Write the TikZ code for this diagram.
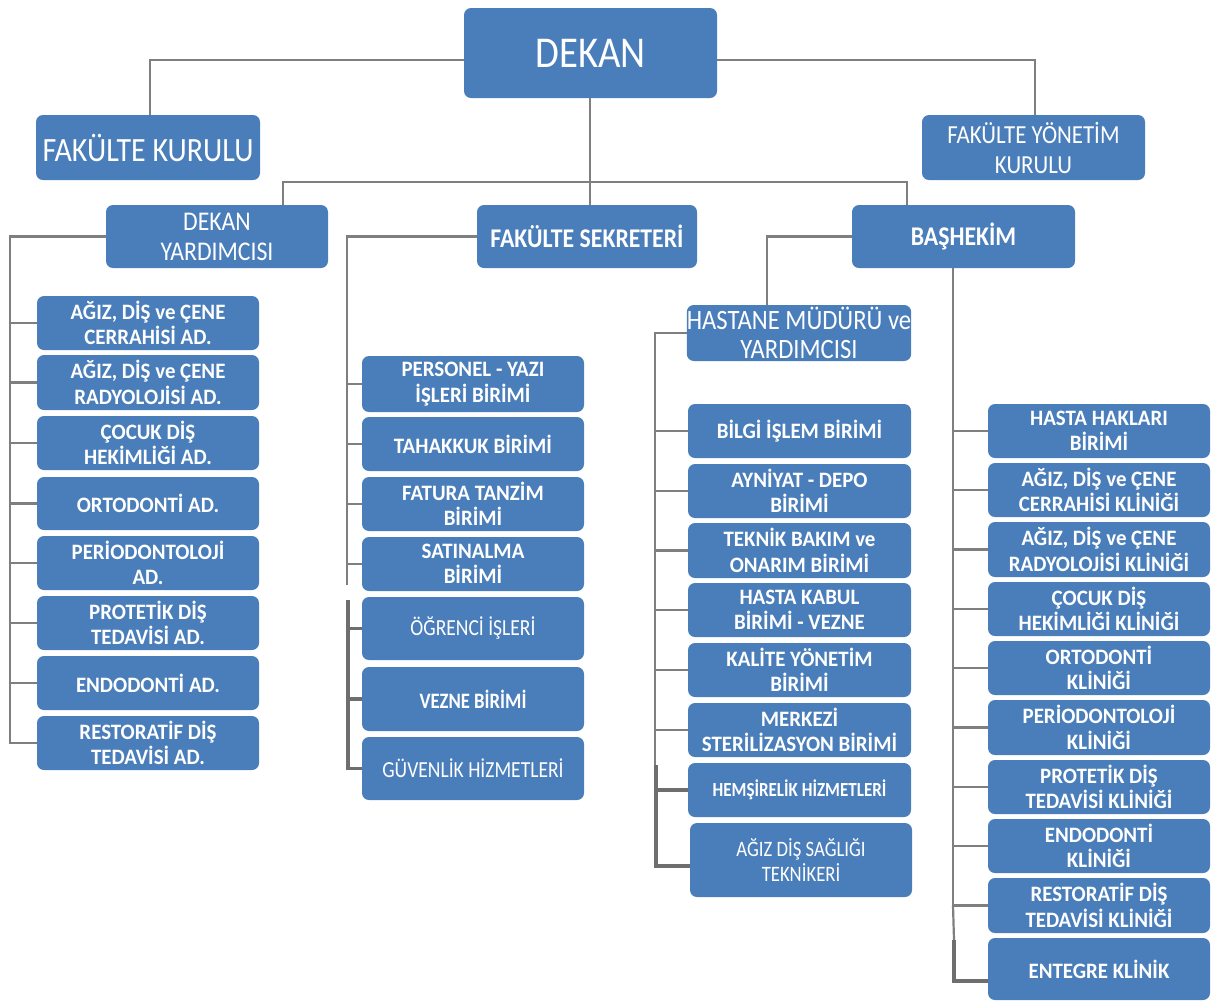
\documentclass[tikz,border=0pt]{standalone}
\usepackage{fontspec}
\setmainfont{Carlito}[FakeStretch=0.95]
\newfontfamily\stdf{Carlito}[FakeStretch=0.88]
\newfontfamily\narrowf{Carlito}[FakeStretch=0.85]
\definecolor{boxblue}{HTML}{4A7EBB}
\definecolor{linegray}{HTML}{7F7F7F}
\definecolor{darkline}{HTML}{6E6E6E}
\newcommand\bx[7][]{%
  \node[box,#1,minimum width={#5-#3},minimum height={#6-#4}] (#2) at ({(#3+#5)/2},{(#4+#6)/2}) {#7};}
\begin{document}
\begin{tikzpicture}[x=1pt,y=-1pt,
  box/.style={rounded corners=7pt, fill=boxblue, text=white, inner sep=0pt, align=center,
    font=\bfseries\fontsize{22}{25.5}\selectfont},
  conn/.style={draw=linegray, line width=2.2pt},
  thk/.style={draw=darkline, line width=3.6pt}]
\useasboundingbox (0,0) rectangle (1221,1005);

% top level
\bx[font=\stdf\fontsize{44}{50}\selectfont]{dekan}{464}{8}{717}{98}{DEKAN}
\bx[font=\stdf\fontsize{34}{38}\selectfont]{fk}{36}{115}{260}{180}{FAKÜLTE KURULU}
\bx[font=\stdf\fontsize{26}{30}\selectfont]{fyk}{922}{115}{1145}{180}{FAKÜLTE YÖNETİM\\KURULU}
\bx[font=\stdf\fontsize{27}{30}\selectfont]{dy}{106}{205}{328}{268}{DEKAN\\YARDIMCISI}
\bx[font=\stdf\bfseries\fontsize{27}{30}\selectfont]{fs}{477}{205}{697}{268}{FAKÜLTE SEKRETERİ}
\bx[font=\stdf\bfseries\fontsize{27}{30}\selectfont]{bh}{852}{205}{1075}{268}{BAŞHEKİM}

% DEKAN YARDIMCISI column
\bx{a1}{37}{296}{259}{350}{AĞIZ, DİŞ ve ÇENE\\CERRAHİSİ AD.}
\bx{a2}{37}{355}{259}{410}{AĞIZ, DİŞ ve ÇENE\\RADYOLOJİSİ AD.}
\bx{a3}{37}{416}{259}{470}{ÇOCUK DİŞ\\HEKİMLİĞİ AD.}
\bx{a4}{37}{477}{259}{530}{ORTODONTİ AD.}
\bx{a5}{37}{536}{259}{590}{PERİODONTOLOJİ\\AD.}
\bx{a6}{37}{596}{259}{650}{PROTETİK DİŞ\\TEDAVİSİ AD.}
\bx{a7}{37}{656}{259}{710}{ENDODONTİ AD.}
\bx{a8}{37}{716}{259}{770}{RESTORATİF DİŞ\\TEDAVİSİ AD.}

% FAKULTE SEKRETERI column
\bx{b1}{362}{356}{584}{412}{PERSONEL - YAZI\\İŞLERİ BİRİMİ}
\bx{b2}{362}{417}{584}{471}{TAHAKKUK BİRİMİ}
\bx{b3}{362}{477}{584}{531}{FATURA TANZİM\\BİRİMİ}
\bx{b4}{362}{537}{584}{591}{SATINALMA\\BİRİMİ}
\bx[font=\narrowf\fontsize{23}{26}\selectfont]{b5}{362}{597}{584}{660}{ÖĞRENCİ İŞLERİ}
\bx[font=\narrowf\bfseries\fontsize{22}{26}\selectfont]{b6}{362}{667}{584}{731}{VEZNE BİRİMİ}
\bx[font=\narrowf\fontsize{23}{26}\selectfont]{b7}{362}{737}{584}{800}{GÜVENLİK HİZMETLERİ}

% HASTANE MUDURU column
\bx[font=\stdf\fontsize{28}{29}\selectfont]{hm}{687}{305}{911}{361}{HASTANE MÜDÜRÜ ve\\YARDIMCISI}
\bx{c1}{688}{404}{911}{458}{BİLGİ İŞLEM BİRİMİ}
\bx{c2}{688}{464}{911}{518}{AYNİYAT - DEPO\\BİRİMİ}
\bx{c3}{688}{523}{911}{578}{TEKNİK BAKIM ve\\ONARIM BİRİMİ}
\bx{c4}{688}{583}{911}{637}{HASTA KABUL\\BİRİMİ - VEZNE}
\bx{c5}{688}{643}{911}{697}{KALİTE YÖNETİM\\BİRİMİ}
\bx{c6}{688}{703}{911}{757}{MERKEZİ\\STERİLİZASYON BİRİMİ}
\bx[font=\narrowf\bfseries\fontsize{20}{24}\selectfont]{c7}{688}{763}{911}{817}{HEMŞİRELİK HİZMETLERİ}
\bx[font=\narrowf\fontsize{22}{25}\selectfont]{c8}{690}{823}{912}{897}{AĞIZ DİŞ SAĞLIĞI\\TEKNİKERİ}

% BASHEKIM column
\bx{d1}{988}{404}{1210}{458}{HASTA HAKLARI\\BİRİMİ}
\bx{d2}{988}{463}{1210}{517}{AĞIZ, DİŞ ve ÇENE\\CERRAHİSİ KLİNİĞİ}
\bx{d3}{988}{522}{1210}{577}{AĞIZ, DİŞ ve ÇENE\\RADYOLOJİSİ KLİNİĞİ}
\bx{d4}{988}{582}{1210}{636}{ÇOCUK DİŞ\\HEKİMLİĞİ KLİNİĞİ}
\bx{d5}{988}{641}{1210}{695}{ORTODONTİ\\KLİNİĞİ}
\bx{d6}{988}{700}{1210}{755}{PERİODONTOLOJİ\\KLİNİĞİ}
\bx{d7}{988}{760}{1210}{814}{PROTETİK DİŞ\\TEDAVİSİ KLİNİĞİ}
\bx{d8}{988}{819}{1210}{873}{ENDODONTİ\\KLİNİĞİ}
\bx{d9}{988}{878}{1210}{933}{RESTORATİF DİŞ\\TEDAVİSİ KLİNİĞİ}
\bx{d10}{988}{938}{1210}{1000}{ENTEGRE KLİNİK}

% coordinates for routing
\coordinate (dl) at (150,60);
\coordinate (dr) at (1035,60);
\coordinate (hub) at (590,182);
\coordinate (hubL) at (283,182);
\coordinate (hubR) at (907,182);
\coordinate (ax) at (10,0);
\coordinate (bx) at (347,0);
\coordinate (bend) at (347,585);
\coordinate (bthk) at (348,600);
\coordinate (hx) at (767,0);
\coordinate (cx) at (655,0);
\coordinate (cend) at (655,765);
\coordinate (cthk) at (656,765);
\coordinate (dx) at (953,0);
\coordinate (dthk) at (954,940);

% top connectors
\draw[conn] (dekan.west |- dl) -- (dl) -- (fk.north -| dl);
\draw[conn] (dekan.east |- dr) -- (dr) -- (fyk.north -| dr);
\draw[conn] (dekan.south -| hub) -- (hub);
\draw[conn] (dy.north -| hubL) -- (hubL) -- (hubR) -- (bh.north -| hubR);
\draw[conn] (fs.north -| hub) -- (hub);

% DEKAN YARDIMCISI
\draw[conn] (dy.west) -- (dy.west -| ax) -- (a8.west -| ax) -- (a8.west);
\foreach \n in {a1,a2,a3,a4,a5,a6,a7} \draw[conn] (\n.west -| ax) -- (\n.west);

% FAKULTE SEKRETERI
\draw[conn] (fs.west) -- (fs.west -| bx) -- (bend);
\foreach \n in {b1,b2,b3,b4} \draw[conn] (\n.west -| bx) -- (\n.west);
\draw[thk] (bthk) -- (b7.west -| bthk) -- (b7.west);
\foreach \n in {b5,b6} \draw[thk] (\n.west -| bthk) -- (\n.west);

% BASHEKIM -> HASTANE MUDURU
\draw[conn] (bh.west) -- (bh.west -| hx) -- (hm.north -| hx);
\draw[conn] (hm.west) -- (hm.west -| cx) -- (cend);
\foreach \n in {c1,c2,c3,c4,c5,c6} \draw[conn] (\n.west -| cx) -- (\n.west);
\draw[thk] (cthk) -- ([yshift=-6pt]c8.west -| cthk) -- ([yshift=-6pt]c8.west);
\draw[thk] (c7.west -| cthk) -- (c7.west);

% BASHEKIM right column
\draw[conn] (bh.south -| dx) -- (d9.west -| dx);
\foreach \n in {d1,d2,d3,d4,d5,d6,d7,d8,d9} \draw[conn] (\n.west -| dx) -- (\n.west);
\draw[conn] (d9.west -| dx) -- (dthk);
\draw[thk] (dthk) -- ([yshift=-12pt]d10.west -| dthk) -- ([yshift=-12pt]d10.west);
\end{tikzpicture}
\end{document}
